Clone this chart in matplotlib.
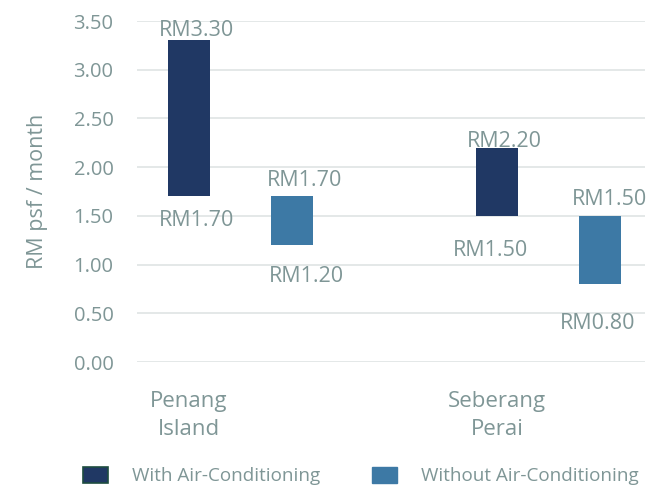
import matplotlib
matplotlib.use("Agg")
import matplotlib.pyplot as plt
import numpy as np
from matplotlib.patches import Patch

categories = ["Penang\nIsland", "Seberang\nPerai"]
series = ["With Air-Conditioning", "Without Air-Conditioning"]
low_with = [1.70, 1.50]
high_with = [3.30, 2.20]
low_without = [1.20, 0.80]
high_without = [1.70, 1.50]
yticks = [0.0, 0.5, 1.0, 1.5, 2.0, 2.5, 3.0, 3.5]

colors = ["#203864", "#3D79A5"]
text_color = "#7F9696"
grid_color = "#E2E6E6"
font = "Open Sans"

plt.rcParams["font.family"] = [font, "DejaVu Sans"]

fig = plt.figure(figsize=(6.49, 4.88), dpi=100)
ax = fig.add_axes([137/649, 1-362/488, (645-137)/649, (362-21)/488])

x = np.arange(len(categories))
width = 0.136
offsets = [0.0, 0.333]
lows = [low_with, low_without]
highs = [high_with, high_without]

# label offsets in pixels (dx, dy) for top and bottom labels
top_off = [[(7, 10), (13, 16)], [(7, 6), (10, 16)]]
bot_off = [[(7, -24), (15, -31)], [(-7, -35), (-2, -39)]]

for s in range(2):
    lo = np.array(lows[s]); hi = np.array(highs[s])
    xs = x + offsets[s]
    ax.bar(xs, hi - lo, bottom=lo, width=width, color=colors[s], zorder=3)
    for i in range(len(x)):
        dx, dy = top_off[i][s]
        ax.annotate(f"RM{hi[i]:.2f}", (xs[i], hi[i]), xytext=(dx*0.72, dy*0.72),
                    textcoords="offset points", ha="center", va="center",
                    fontsize=15.5, color=text_color)
        dx, dy = bot_off[i][s]
        ax.annotate(f"RM{lo[i]:.2f}", (xs[i], lo[i]), xytext=(dx*0.72, dy*0.72),
                    textcoords="offset points", ha="center", va="center",
                    fontsize=15.5, color=text_color)

ax.set_xlim(-0.169, 1.48)
ax.set_ylim(0, 3.5)
ax.set_yticks(yticks)
ax.set_yticklabels([f"{v:.2f}" for v in yticks], fontsize=14.5, color=text_color)
ax.set_xticks(x)
ax.set_xticklabels(categories, fontsize=16, color=text_color, linespacing=1.45)
ax.tick_params(axis="both", length=0)
ax.tick_params(axis="y", pad=17)
ax.tick_params(axis="x", pad=21)
ax.grid(axis="y", color=grid_color, linewidth=1.3, zorder=0)
ax.set_axisbelow(True)
for sp in ax.spines.values():
    sp.set_visible(False)
ax.set_ylabel("RM psf / month", fontsize=15.5, color=text_color, labelpad=18)

handles = [Patch(facecolor=colors[0], edgecolor="#1E4D40", linewidth=1.2),
           Patch(facecolor=colors[1], edgecolor=colors[1])]
fig.legend(handles, series, loc="center", bbox_to_anchor=(0.556, 1-476/488),
           ncol=2, frameon=False, fontsize=13.6, labelcolor=text_color,
           handlelength=1.32, handleheight=0.95, columnspacing=2.75, handletextpad=1.27)

fig.savefig("out.png", dpi=100)
